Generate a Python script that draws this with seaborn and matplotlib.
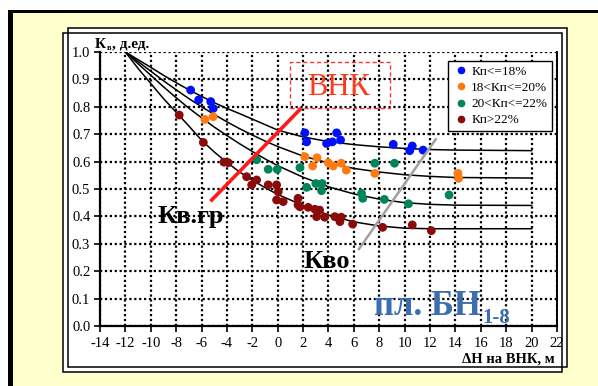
import numpy as np
import pandas as pd
import matplotlib
matplotlib.use("Agg")
import matplotlib.pyplot as plt
import seaborn as sns
from matplotlib.patches import Rectangle
from matplotlib.lines import Line2D

# ---------------- data ----------------
GROUPS = ["Кп<=18%", "18<Кп<=20%", "20<Кп<=22%", "Кп>22%"]
COLORS = ["#0010FF", "#FF7A10", "#00845A", "#8B0A0A"]

blue_x = [-6.86, -6.23, -5.28, -5.08, 2.14, 2.28, 3.85, 4.3, 4.64, 4.95, 9.1, 10.6, 10.4, 11.45]
blue_y = [0.861, 0.825, 0.819, 0.794, 0.705, 0.672, 0.666, 0.672, 0.705, 0.679, 0.663, 0.657, 0.640, 0.642]

orange_x = [-5.73, -5.08, 2.14, 2.75, 3.1, 3.98, 4.37, 5.0, 5.4, 7.65, 14.2, 14.25]
orange_y = [0.754, 0.764, 0.618, 0.584, 0.614, 0.596, 0.584, 0.594, 0.569, 0.557, 0.557, 0.539]

green_x = [-1.66, -0.75, -0.04, 1.75, 2.28, 3.0, 3.5, 3.45, 6.6, 6.7, 7.65, 9.2, 8.4, 10.3, 13.5]
green_y = [0.607, 0.572, 0.572, 0.578, 0.506, 0.520, 0.520, 0.494, 0.484, 0.466, 0.594, 0.594, 0.462, 0.446, 0.478]

brown_x = [-7.76, -5.86, -4.24, -3.9, -2.45, -2.05, -1.66, -0.75, -0.09, 0.04, -0.09, 0.43,
           1.6, 1.6, 1.75, 2.4, 2.93, 3.3, 3.06, 3.7, 4.5, 5.0, 4.9, 5.9, 8.26, 10.6, 12.1]
brown_y = [0.770, 0.670, 0.598, 0.596, 0.545, 0.515, 0.533, 0.515, 0.515, 0.490, 0.460, 0.454,
           0.466, 0.442, 0.435, 0.433, 0.426, 0.423, 0.399, 0.397, 0.399, 0.397, 0.381, 0.372, 0.360, 0.369, 0.348]

CURVE_X = [-12, -11, -10, -9, -8, -7, -6, -5, -4, -3, -2, -1, 0, 2, 4, 6, 8, 10, 12, 14, 20]
curve1_y = [1.0, 0.972, 0.944, 0.915, 0.888, 0.862, 0.838, 0.815, 0.794, 0.775, 0.755, 0.735, 0.715, 0.690, 0.673, 0.662, 0.654, 0.648, 0.644, 0.642, 0.640]
curve2_y = [1.0, 0.965, 0.930, 0.895, 0.862, 0.830, 0.800, 0.772, 0.745, 0.720, 0.697, 0.675, 0.655, 0.620, 0.595, 0.575, 0.562, 0.552, 0.546, 0.542, 0.540]
curve3_y = [1.0, 0.957, 0.915, 0.873, 0.833, 0.795, 0.760, 0.726, 0.695, 0.665, 0.637, 0.610, 0.585, 0.543, 0.508, 0.482, 0.463, 0.450, 0.444, 0.441, 0.440]
curve4_y = [1.0, 0.940, 0.885, 0.830, 0.780, 0.730, 0.678, 0.635, 0.597, 0.562, 0.532, 0.505, 0.480, 0.440, 0.405, 0.380, 0.365, 0.357, 0.355, 0.355, 0.355]

RED_LINE_X = [-5.3, 1.85]
RED_LINE_Y = [0.455, 0.795]
GRAY_LINE_X = [6.34, 12.5]
GRAY_LINE_Y = [0.277, 0.685]
VNK_BOX = [0.96, 8.83, 0.795, 0.963]  # x0, x1, y0, y1

X_TICKS = list(range(-14, 23, 2))
Y_TICKS = [0.0, 0.1, 0.2, 0.3, 0.4, 0.5, 0.6, 0.7, 0.8, 0.9, 1.0]

# ---------------- frames ----------------
pts = pd.DataFrame({
    "x": blue_x + orange_x + green_x + brown_x,
    "y": blue_y + orange_y + green_y + brown_y,
    "group": [GROUPS[0]] * len(blue_x) + [GROUPS[1]] * len(orange_x)
             + [GROUPS[2]] * len(green_x) + [GROUPS[3]] * len(brown_x),
})
curves = pd.DataFrame({
    "x": CURVE_X * 4,
    "y": curve1_y + curve2_y + curve3_y + curve4_y,
    "curve": sum([[i] * len(CURVE_X) for i in range(4)], []),
})

SERIF = ["Liberation Serif", "DejaVu Serif"]
plt.rcParams["font.family"] = SERIF

W, H = 598, 386
YEL = "#FFFFCC"
fig = plt.figure(figsize=(W / 100, H / 100), dpi=100, facecolor=YEL)


def frect(px0, py0, px1, py1, **kw):
    r = Rectangle((px0 / W, 1 - py1 / H), (px1 - px0) / W, (py1 - py0) / H,
                  transform=fig.transFigure, zorder=-10, **kw)
    fig.patches.append(r)
    return r

# white margins + black bands
frect(0, 0, W, 10, facecolor="white", edgecolor="none")
frect(0, 0, 8, H, facecolor="white", edgecolor="none")
frect(8, 10, W, 13, facecolor="black", edgecolor="none")
frect(8, 10, 13, H, facecolor="black", edgecolor="none")
# white panel with double border
frect(68, 28, 567, 367, facecolor="white", edgecolor="none")
frect(63, 33, 562, 372, facecolor="white", edgecolor="none")
frect(68, 28, 567, 367, facecolor="none", edgecolor="black", lw=1.1)
frect(63, 33, 562, 372, facecolor="none", edgecolor="black", lw=1.1)

ax = fig.add_axes([100 / W, 1 - 326 / H, 457 / W, 274 / H])
ax.set_zorder(2)
ax.set_facecolor("white")

sns.lineplot(data=curves, x="x", y="y", units="curve", estimator=None, sort=False,
             color="black", lw=1.1, ax=ax, zorder=2.5)
sns.scatterplot(data=pts, x="x", y="y", hue="group", hue_order=GROUPS,
                palette=COLORS, s=40, edgecolor="none", legend=False, ax=ax, zorder=3)

ax.plot(RED_LINE_X, RED_LINE_Y, color="#FF1A1A", lw=2.6, solid_capstyle="butt", zorder=4)
ax.plot(GRAY_LINE_X, GRAY_LINE_Y, color="#A0A0A0", lw=1.8, solid_capstyle="butt", zorder=4)
ax.add_patch(Rectangle((VNK_BOX[0], VNK_BOX[2]), VNK_BOX[1] - VNK_BOX[0], VNK_BOX[3] - VNK_BOX[2],
                       facecolor="none", edgecolor="#FF3030", lw=1.0, ls=(0, (3, 2)), zorder=4))

ax.set_xlim(-14, 22)
ax.set_ylim(0, 1.0)
ax.set_xticks(X_TICKS)
ax.set_yticks(Y_TICKS)
ax.set_xticklabels([str(t) for t in X_TICKS])
ax.set_yticklabels([f"{t:.1f}" for t in Y_TICKS])
ax.set_xlabel("")
ax.set_ylabel("")
ax.grid(True, color="black", linestyle=(0, (1, 1.2)), linewidth=1.6, zorder=1)
ax.set_axisbelow(True)
ax.tick_params(direction="out", length=4, width=1.2, colors="black", labelsize=10.5, pad=3)
for lab in ax.get_xticklabels() + ax.get_yticklabels():
    lab.set_family(SERIF)
ax.tick_params(axis="x", pad=4)
ax.spines["top"].set_visible(False)
for s in ["left", "bottom"]:
    ax.spines[s].set_linewidth(1.6)
    ax.spines[s].set_color("black")
ax.spines["right"].set_linewidth(1.4)
ax.spines["right"].set_color("black")

# annotations
ax.text(2.3, 0.869, "ВНК", color="#FF3A1A", fontsize=22, family=SERIF, va="center", ha="left", zorder=5)
ax.text(-9.5, 0.40, "Кв.гр", color="black", fontsize=19, fontweight="bold", family=SERIF,
        va="center", ha="left", zorder=5)
ax.text(2.0, 0.234, "Кво", color="black", fontsize=19, fontweight="bold", family=SERIF,
        va="center", ha="left", zorder=5)
ax.text(7.6, 0.04, "пл. БН", color="#3C6EAF", fontsize=25, fontweight="bold", family=SERIF,
        va="baseline", ha="left", zorder=5)
ax.text(16.1, 0.012, "1-8", color="#3C6EAF", fontsize=15, fontweight="bold", family=SERIF,
        va="baseline", ha="left", zorder=5)

# axis titles
fig.text(95 / W, 1 - 48 / H, "К", fontsize=11, fontweight="bold", family=SERIF, va="baseline", ha="left")
fig.text(107 / W, 1 - 50 / H, "в", fontsize=6, fontweight="bold", family=SERIF, va="baseline", ha="left")
fig.text(112 / W, 1 - 48 / H, ", д.ед.", fontsize=11, fontweight="bold", family=SERIF, va="baseline", ha="left")
fig.text(462 / W, 1 - 363 / H, "ΔН на ВНК, м", fontsize=10.5, fontweight="bold", family=SERIF,
         va="baseline", ha="left")

# legend
handles = [Line2D([], [], ls="none", marker="o", ms=5.5, mfc=c, mec="none") for c in COLORS]
leg = ax.legend(handles, GROUPS, loc="upper right", bbox_to_anchor=(0.989, 0.967),
                prop={"family": SERIF, "size": 9.5}, frameon=True, fancybox=False,
                edgecolor="black", framealpha=1, borderpad=0.35, labelspacing=0.3,
                handletextpad=0.2, handlelength=1.2, borderaxespad=0.0)
leg.get_frame().set_linewidth(1.0)
leg.set_zorder(6)

fig.savefig("out.png", dpi=100, facecolor=YEL)
